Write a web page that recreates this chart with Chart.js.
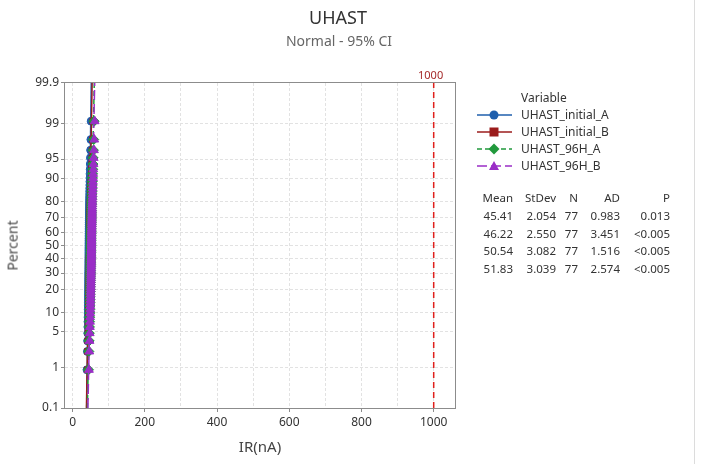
<!DOCTYPE html>
<html>
<head>
<meta charset="utf-8">
<script src="https://cdn.jsdelivr.net/npm/chart.js@4/dist/chart.umd.min.js"></script>
<style>
  body { margin: 0; background: #fff; font-family: "Noto Sans", "Open Sans", sans-serif; color: #333; }
  #wrap { position: relative; width: 721px; height: 464px; }
  #chart { position: absolute; left: 0; top: 0; }
  .txt { position: absolute; white-space: nowrap; }
  .legend-row { position: absolute; left: 476px; height: 16px; font-size: 12px; }
  .legend-row svg { position: absolute; left: 0; top: 0; }
  .legend-row span { position: absolute; left: 45px; top: -1px; }
  .cell { position: absolute; font-size: 11.5px; text-align: right; }
</style>
</head>
<body>
<div id="wrap">
  <canvas id="chart" width="721" height="464"></canvas>
  <div class="txt" style="left:0;width:676px;text-align:center;top:5px;font-size:18px;color:#333;">UHAST</div>
  <div class="txt" style="left:0;width:678px;text-align:center;top:31px;font-size:14px;color:#666;">Normal - 95% CI</div>
  <div class="txt" style="left:-13px;top:236px;font-size:14px;font-weight:400;color:#4a4a4a;transform:rotate(-90deg);">Percent</div>
  <div class="txt" style="left:65px;width:390px;text-align:center;top:436px;font-size:15px;color:#444;">IR(nA)</div>
  <div class="txt" style="left:418px;top:67px;font-size:11px;color:#a52a2a;">1000</div>
  <div id="legend"></div>
  <div id="stats"></div>
  <div style="position:absolute;left:694px;top:0;width:1px;height:464px;background:#dcdcdc;"></div>
</div>
<script>
const seriesNames = ['UHAST_initial_A', 'UHAST_initial_B', 'UHAST_96H_A', 'UHAST_96H_B'];
const means = [45.41, 46.22, 50.54, 51.83];
const stdevs = [2.054, 2.550, 3.082, 3.039];
const counts = [77, 77, 77, 77];
const adValues = ['0.983', '3.451', '1.516', '2.574'];
const pValues = ['0.013', '<0.005', '<0.005', '<0.005'];

// observations, sorted (estimated from the plot)
const initialA = [
  40.1, 41.2, 41.8, 42.3, 42.6, 42.9, 43.1, 43.3, 43.5, 43.6,
  43.8, 43.9, 44.0, 44.1, 44.2, 44.3, 44.4, 44.5, 44.6, 44.6,
  44.7, 44.8, 44.8, 44.9, 45.0, 45.0, 45.1, 45.1, 45.2, 45.2,
  45.3, 45.3, 45.4, 45.4, 45.5, 45.5, 45.5, 45.6, 45.6, 45.7,
  45.7, 45.8, 45.8, 45.9, 45.9, 46.0, 46.0, 46.1, 46.1, 46.2,
  46.2, 46.3, 46.3, 46.4, 46.5, 46.5, 46.6, 46.7, 46.8, 46.9,
  47.0, 47.1, 47.2, 47.3, 47.5, 47.6, 47.8, 48.0, 48.2, 48.4,
  48.6, 48.9, 49.2, 49.6, 50.1, 50.8, 51.6
];
const initialB = [
  40.5, 41.5, 42.0, 42.5, 43.0, 43.0, 43.5, 43.5, 44.0, 44.0,
  44.0, 44.5, 44.5, 44.5, 45.0, 45.0, 45.0, 45.0, 45.5, 45.5,
  45.5, 45.5, 45.5, 46.0, 46.0, 46.0, 46.0, 46.0, 46.0, 46.0,
  46.0, 46.0, 46.0, 46.5, 46.5, 46.5, 46.5, 46.5, 46.5, 46.5,
  46.5, 46.5, 47.0, 47.0, 47.0, 47.0, 47.0, 47.0, 47.0, 47.0,
  47.5, 47.5, 47.5, 47.5, 47.5, 48.0, 48.0, 48.0, 48.0, 48.5,
  48.5, 48.5, 49.0, 49.0, 49.5, 49.5, 50.0, 50.5, 51.0, 51.5,
  52.0, 52.5, 53.0, 53.5, 54.0, 55.0, 56.0
];
const h96A = [
  44.0, 45.0, 45.8, 46.3, 46.7, 47.0, 47.3, 47.6, 47.8, 48.0,
  48.2, 48.4, 48.6, 48.7, 48.9, 49.0, 49.1, 49.3, 49.4, 49.5,
  49.6, 49.7, 49.8, 49.9, 50.0, 50.0, 50.1, 50.2, 50.3, 50.3,
  50.4, 50.5, 50.5, 50.6, 50.7, 50.7, 50.8, 50.9, 50.9, 51.0,
  51.1, 51.1, 51.2, 51.3, 51.3, 51.4, 51.5, 51.6, 51.6, 51.7,
  51.8, 51.9, 52.0, 52.1, 52.2, 52.3, 52.4, 52.5, 52.6, 52.8,
  52.9, 53.1, 53.2, 53.4, 53.6, 53.8, 54.0, 54.3, 54.6, 55.0,
  55.4, 55.8, 56.3, 56.9, 57.6, 58.4, 59.5
];
const h96B = [
  45.5, 46.5, 47.2, 47.7, 48.1, 48.4, 48.7, 49.0, 49.2, 49.4,
  49.6, 49.8, 50.0, 50.1, 50.3, 50.4, 50.5, 50.7, 50.8, 50.9,
  51.0, 51.1, 51.2, 51.3, 51.4, 51.5, 51.5, 51.6, 51.7, 51.8,
  51.9, 51.9, 52.0, 52.1, 52.1, 52.2, 52.3, 52.3, 52.4, 52.5,
  52.5, 52.6, 52.7, 52.8, 52.8, 52.9, 53.0, 53.1, 53.2, 53.3,
  53.4, 53.5, 53.6, 53.7, 53.8, 53.9, 54.0, 54.1, 54.2, 54.4,
  54.5, 54.7, 54.9, 55.1, 55.3, 55.5, 55.8, 56.1, 56.4, 56.8,
  57.2, 57.6, 58.1, 58.7, 59.4, 60.2, 61.5
];
const seriesData = [initialA, initialB, h96A, h96B];

// axes
const percentTicks = [0.1, 1, 5, 10, 20, 30, 40, 50, 60, 70, 80, 90, 95, 99, 99.9];
const xTicks = [0, 100, 200, 300, 400, 500, 600, 700, 800, 900, 1000];
const xMin = -21, xMax = 1059;
const refLine = 1000;

const colors = ['#1f5fad', '#9b1c1c', '#21993c', '#9a2ec6'];
const pointStyles = ['circle', 'rect', 'rectRot', 'triangle'];
const pointRadii = [4, 4, 5, 5];
const dashes = [[], [], [5, 3], [10, 4]];

// inverse normal CDF (Acklam)
function probit(p) {
  const a = [-3.969683028665376e+01, 2.209460984245205e+02, -2.759285104469687e+02, 1.383577518672690e+02, -3.066479806614716e+01, 2.506628277459239e+00];
  const b = [-5.447609879822406e+01, 1.615858368580409e+02, -1.556989798598866e+02, 6.680131188771972e+01, -1.328068155288572e+01];
  const c = [-7.784894002430293e-03, -3.223964580411365e-01, -2.400758277161838e+00, -2.549732854228007e+00, 4.374664141464968e+00, 2.938163982698783e+00];
  const d = [7.784695709041462e-03, 3.224671290700398e-01, 2.445134137142996e+00, 3.754408259799484e+00];
  const plow = 0.02425;
  let q, r;
  if (p < plow) {
    q = Math.sqrt(-2 * Math.log(p));
    return (((((c[0]*q+c[1])*q+c[2])*q+c[3])*q+c[4])*q+c[5]) / ((((d[0]*q+d[1])*q+d[2])*q+d[3])*q+1);
  }
  if (p > 1 - plow) {
    q = Math.sqrt(-2 * Math.log(1 - p));
    return -(((((c[0]*q+c[1])*q+c[2])*q+c[3])*q+c[4])*q+c[5]) / ((((d[0]*q+d[1])*q+d[2])*q+d[3])*q+1);
  }
  q = p - 0.5; r = q * q;
  return (((((a[0]*r+a[1])*r+a[2])*r+a[3])*r+a[4])*r+a[5])*q / (((((b[0]*r+b[1])*r+b[2])*r+b[3])*r+b[4])*r+1);
}

const zTop = probit(0.999);
const zBottom = probit(0.001);

const datasets = [];
seriesData.forEach((vals, s) => {
  const n = vals.length;
  // points at median-rank plotting positions
  datasets.push({
    label: seriesNames[s],
    data: vals.map((v, i) => ({ x: v, y: probit((i + 1 - 0.3) / (n + 0.4)) })),
    showLine: false,
    pointStyle: pointStyles[s],
    pointRadius: pointRadii[s],
    backgroundColor: colors[s],
    borderColor: colors[s],
    borderWidth: 1,
    order: 3 - s
  });
  // fitted normal line
  datasets.push({
    label: seriesNames[s] + ' fit',
    data: [
      { x: means[s] + stdevs[s] * zBottom, y: zBottom },
      { x: means[s] + stdevs[s] * zTop, y: zTop }
    ],
    showLine: true,
    pointRadius: 0,
    borderColor: colors[s],
    borderWidth: 1.5,
    borderDash: dashes[s],
    order: 3 - s + 0.5
  });
});
datasets.push({
  label: 'ref',
  data: [{ x: refLine, y: zBottom }, { x: refLine, y: zTop }],
  showLine: true,
  pointRadius: 0,
  borderColor: '#e0201c',
  borderWidth: 1.5,
  borderDash: [6, 4],
  order: 10
});

const frame = {
  id: 'frame',
  afterDatasetsDraw(chart) {
    const { ctx, chartArea: a } = chart;
    ctx.save();
    ctx.strokeStyle = '#8c8c8c';
    ctx.lineWidth = 1;
    ctx.strokeRect(a.left - 0.5, a.top - 0.5, a.right - a.left + 1, a.bottom - a.top + 1);
    ctx.restore();
  }
};

new Chart(document.getElementById('chart'), {
  type: 'scatter',
  data: { datasets: datasets },
  plugins: [frame],
  options: {
    responsive: false,
    animation: false,
    layout: { padding: { left: 0, top: 83, right: 266, bottom: 32 } },
    plugins: { legend: { display: false }, tooltip: { enabled: false } },
    scales: {
      x: {
        type: 'linear',
        min: xMin,
        max: xMax,
        afterBuildTicks: scale => { scale.ticks = xTicks.map(v => ({ value: v })); },
        afterFit: scale => { scale.height = 24; },
        ticks: {
          autoSkip: false,
          maxRotation: 0,
          padding: 3,
          color: '#333',
          font: { size: 12, family: '"Noto Sans", "Open Sans", sans-serif' },
          callback: v => (v % 200 === 0 ? String(v) : '')
        },
        grid: {
          color: '#e2e2e2',
          tickLength: 4,
          tickColor: ctx => (ctx.tick && ctx.tick.value % 200 === 0 ? '#8c8c8c' : 'rgba(0,0,0,0)')
        },
        border: { display: false, dash: [3, 2] }
      },
      y: {
        type: 'linear',
        min: zBottom,
        max: zTop,
        afterBuildTicks: scale => { scale.ticks = percentTicks.map(p => ({ value: probit(p / 100) })); },
        afterFit: scale => { scale.width = 65; },
        ticks: {
          autoSkip: false,
          padding: 2,
          color: '#333',
          font: { size: 12, family: '"Noto Sans", "Open Sans", sans-serif' },
          callback: (v, i) => String(percentTicks[i])
        },
        grid: { color: '#e2e2e2', tickLength: 4, tickColor: '#8c8c8c' },
        border: { display: false, dash: [3, 2] }
      }
    }
  }
});

// legend and statistics table
const legend = document.getElementById('legend');
legend.innerHTML = '<div class="txt" style="left:521px;top:89px;font-size:12px;">Variable</div>';
const legendTops = [107, 124, 141, 158];
seriesNames.forEach((name, s) => {
  let marker;
  if (s === 0) marker = '<circle cx="18" cy="8" r="4.5" fill="' + colors[s] + '"/>';
  else if (s === 1) marker = '<rect x="13.5" y="3.5" width="9" height="9" fill="' + colors[s] + '"/>';
  else if (s === 2) marker = '<polygon points="18,2.5 23.5,8 18,13.5 12.5,8" fill="' + colors[s] + '"/>';
  else marker = '<polygon points="18,3 23,12 13,12" fill="' + colors[s] + '"/>';
  const dash = dashes[s].length ? ' stroke-dasharray="' + dashes[s].join(',') + '"' : '';
  const row = document.createElement('div');
  row.className = 'legend-row';
  row.style.top = legendTops[s] + 'px';
  row.innerHTML = '<svg width="40" height="16"><line x1="1" y1="8" x2="36" y2="8" stroke="' + colors[s] +
    '" stroke-width="1.5"' + dash + '/>' + marker + '</svg><span>' + name + '</span>';
  legend.appendChild(row);
});

const stats = document.getElementById('stats');
const colRight = [513, 556, 578, 620, 670];
const colWidth = [45, 40, 18, 45, 50];
const header = ['Mean', 'StDev', 'N', 'AD', 'P'];
function addRow(cells, top) {
  cells.forEach((t, c) => {
    const el = document.createElement('div');
    el.className = 'cell';
    el.style.left = (colRight[c] - colWidth[c]) + 'px';
    el.style.width = colWidth[c] + 'px';
    el.style.top = top + 'px';
    el.textContent = t;
    stats.appendChild(el);
  });
}
addRow(header, 190);
means.forEach((m, s) => {
  addRow([m.toFixed(2), stdevs[s].toFixed(3), String(counts[s]), adValues[s], pValues[s]], 208 + s * 17.5);
});
</script>
</body>
</html>
